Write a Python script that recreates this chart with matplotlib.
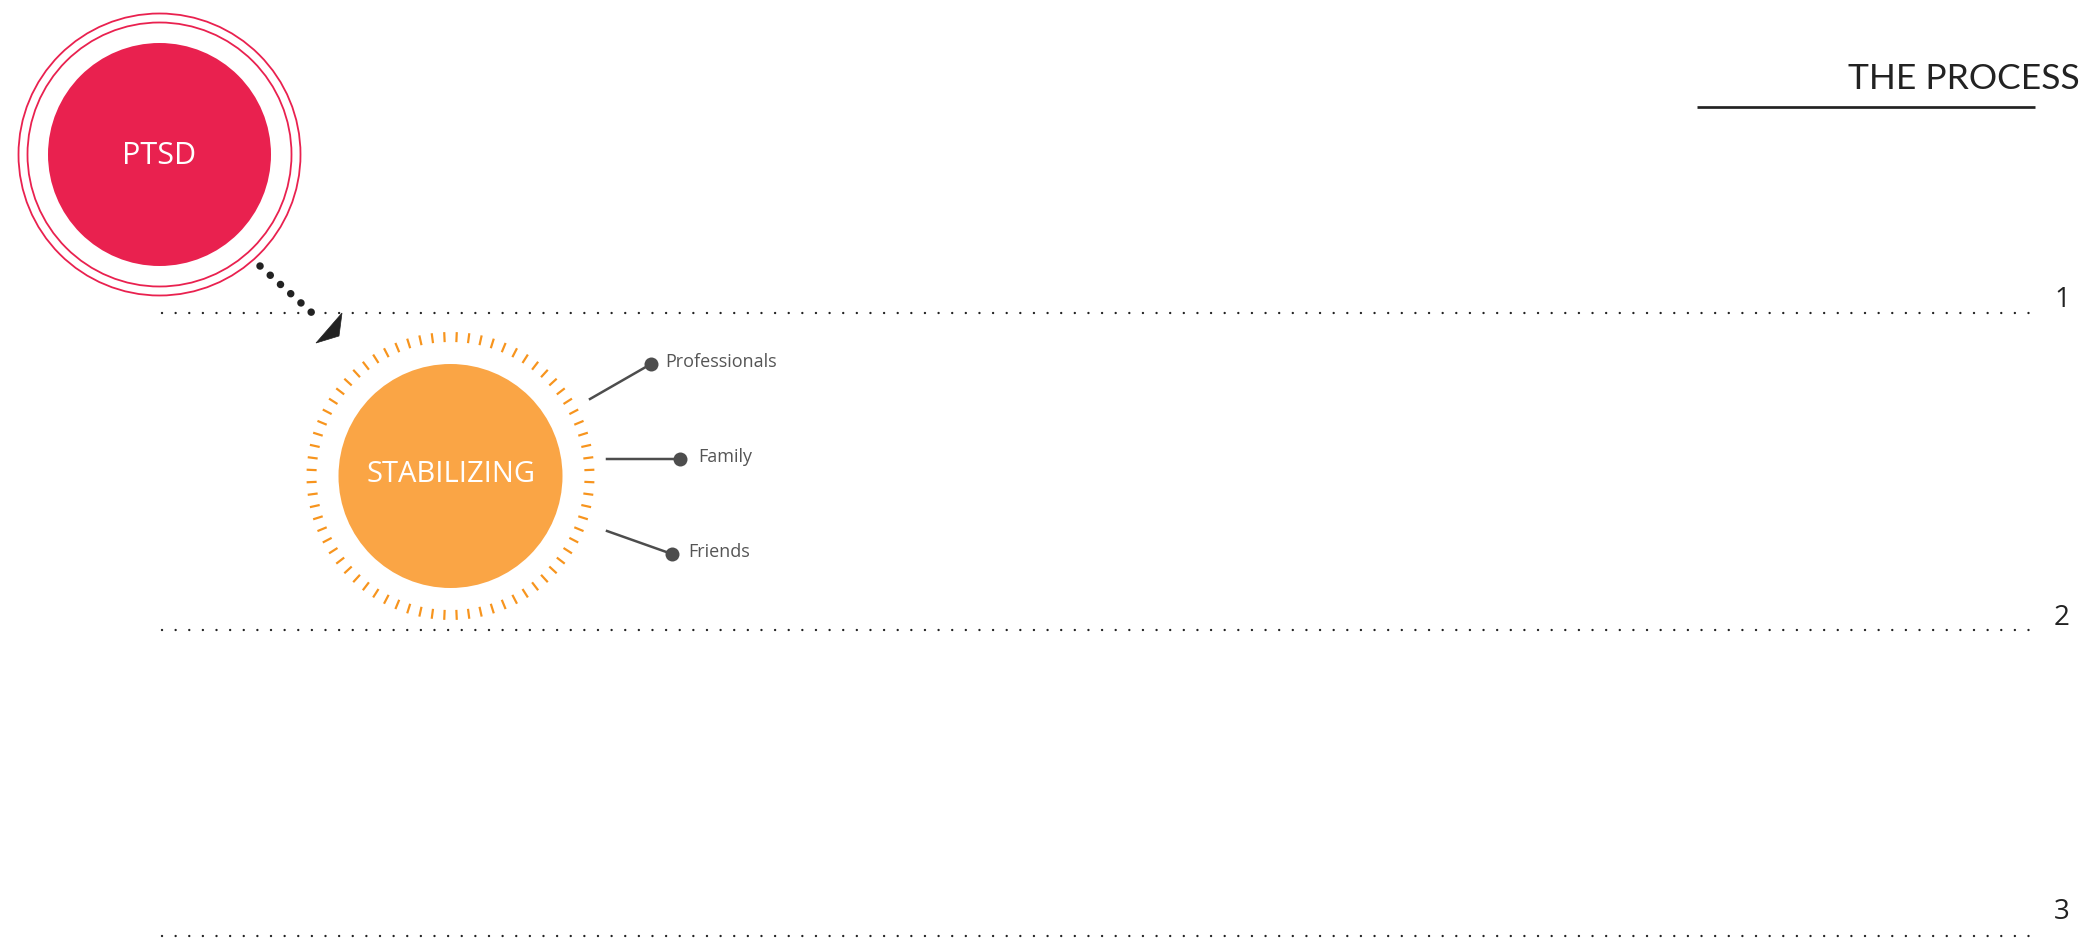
import numpy as np
import matplotlib
matplotlib.use("Agg")
import matplotlib.pyplot as plt
from matplotlib.patches import Circle, Polygon

plt.rcParams['font.family'] = ['Open Sans', 'DejaVu Sans']

# content
title = "THE PROCESS"
stage_labels = ["1", "2", "3"]
stage_y = [313, 630, 936]          # y of dotted separator lines (pixels)
stage_label_y = [300, 618, 912]    # y of the stage numbers
start_name = "PTSD"
step_name = "STABILIZING"
support_labels = ["Professionals", "Family", "Friends"]

# colours
RED = '#E9214F'
ORANGE = '#FAA545'
TICK_ORANGE = '#F7941D'
GREY = '#4D4D4D'
DARK = '#222222'

W, H = 2095, 942
fig = plt.figure(figsize=(W / 100, H / 100), dpi=100)
ax = fig.add_axes([0, 0, 1, 1])
ax.set_xlim(0, W)
ax.set_ylim(H, 0)
ax.set_aspect('equal')
ax.axis('off')

PT = 72 / 100  # pixels -> points

# title and underline
ax.text(2080, 79, title, ha='right', va='center', fontsize=25.5, color=DARK,
        family=['Lato', 'DejaVu Sans'])
ax.plot([1697, 2035], [107, 107], color=DARK, lw=2.7 * PT, solid_capstyle='butt')

# dotted separators + stage numbers
for lab, y, ly in zip(stage_labels, stage_y, stage_label_y):
    ax.plot([162, 2032], [y, y], color=DARK, lw=2.4 * PT,
            linestyle=(0, (0.01, 13.6 / 2.4)), dash_capstyle='round')
    ax.text(2062, ly, lab, ha='center', va='center', fontsize=20, color=DARK)

# PTSD circle with double ring
cx, cy = 159.5, 154.5
ax.add_patch(Circle((cx, cy), 111.5, color=RED, lw=0))
ax.add_patch(Circle((cx, cy), 132, fill=False, edgecolor=RED, lw=1.8 * PT))
ax.add_patch(Circle((cx, cy), 141, fill=False, edgecolor=RED, lw=1.8 * PT))
ax.text(cx, cy + 1, start_name, ha='center', va='center', fontsize=22, color='white')

# dotted arrow
ax.plot([260, 321], [266, 321], color=DARK, lw=7.5 * PT,
        linestyle=(0, (0.01, 13.7 / 7.5)), dash_capstyle='round')
ax.add_patch(Polygon([[342, 313], [316, 343], [339, 336]], closed=True,
                     color=DARK, lw=0.5))

# STABILIZING circle with tick ring
sx, sy = 450.5, 476
ax.add_patch(Circle((sx, sy), 112, color=ORANGE, lw=0))
for a in np.deg2rad(np.arange(0, 360, 5) + 2.5):
    ax.plot([sx + 134 * np.cos(a), sx + 144 * np.cos(a)],
            [sy + 134 * np.sin(a), sy + 144 * np.sin(a)],
            color=TICK_ORANGE, lw=2.2 * PT, solid_capstyle='butt')
ax.text(sx, sy - 2, step_name, ha='center', va='center', fontsize=21,
        color='white')

# support connectors
starts = [(590, 399), (607, 459), (607, 531)]
ends = [(651, 364), (680, 459), (672, 554)]
text_x = [665, 698, 688]
for lab, (x0, y0), (x1, y1), tx in zip(support_labels, starts, ends, text_x):
    ax.plot([x0, x1], [y0, y1], color=GREY, lw=2.5 * PT)
    ax.plot(x1, y1, 'o', color=GREY, ms=14 * PT, mew=0)
    ax.text(tx, y1 - 2, lab, ha='left', va='center', fontsize=13, color='#555555')

fig.savefig('out.png', dpi=100, facecolor='white')
